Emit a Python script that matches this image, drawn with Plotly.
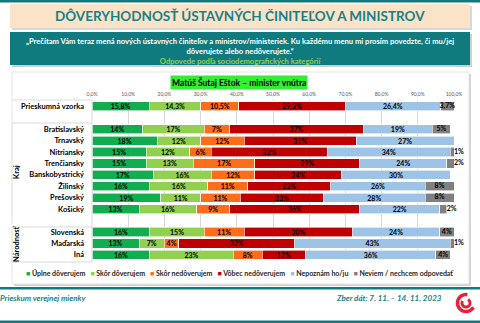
import numpy as np
import plotly.graph_objects as go

# ---------------- data ----------------
categories = ["Prieskumná vzorka", "Bratislavský", "Trnavský", "Nitriansky", "Trenčiansky",
              "Banskobystrický", "Žilinský", "Prešovský", "Košický",
              "Slovenská", "Maďarská", "Iná"]
slots = [0, 2, 3, 4, 5, 6, 7, 8, 9, 11, 12, 13]   # row slots (blank rows separate groups)

series_names = ["Úplne dôverujem", "Skôr dôverujem", "Skôr nedôverujem",
                "Vôbec nedôverujem", "Nepoznám ho/ju", "Neviem / nechcem odpovedať"]
uplne_doverujem = [15.8, 14, 18, 15, 15, 17, 16, 19, 13, 16, 13, 16]
skor_doverujem = [14.3, 17, 12, 12, 13, 16, 16, 11, 16, 15, 7, 23]
skor_nedoverujem = [10.5, 7, 12, 6, 17, 12, 11, 11, 9, 11, 4, 8]
vobec_nedoverujem = [29.3, 37, 31, 32, 29, 24, 23, 23, 36, 30, 32, 12]
nepoznam = [26.4, 19, 27, 34, 24, 30, 26, 28, 22, 24, 43, 36]
neviem = [3.7, 5, 1, 1, 2, 0, 8, 8, 2, 4, 1, 4]
series_values = [uplne_doverujem, skor_doverujem, skor_nedoverujem,
                 vobec_nedoverujem, nepoznam, neviem]
colors = ["#12ad4f", "#92d050", "#ff6d1a", "#c00000", "#9dc3e6", "#808080"]

xtick_vals = [0, 10, 20, 30, 40, 50, 60, 70, 80, 90, 100]
xtick_text = ["0,0%", "10,0%", "20,0%", "30,0%", "40,0%", "50,0%",
              "60,0%", "70,0%", "80,0%", "90,0%", "100,0%"]

FONT = "Lato, Carlito, 'Open Sans', sans-serif"
TEAL = "#12797d"

# --------------- geometry helpers ---------------
W, H = 480, 323
L, R, T, B = 92, 26, 100, 63
PW, PH = W - L - R, H - T - B


def px(x):
    return (x - L) / PW


def py(y):
    return (H - B - y) / PH


def fmt(v):
    if v == 0:
        return ""
    return f"{v:g}".replace(".", ",") + "%"


fig = go.Figure()
n_series = len(series_names)
for i, (name, vals, col) in enumerate(zip(series_names, series_values, colors)):
    last = i == n_series - 1
    fig.add_trace(go.Bar(
        name=name, y=slots, x=vals, orientation="h",
        marker=dict(color=col, line=dict(color="white", width=0.6)),
        width=0.8,
        text=None if last else [fmt(v) for v in vals], textposition="inside",
        insidetextanchor="middle",
        textfont=dict(family=FONT, size=7, color="black", weight="bold"),
        cliponaxis=False, showlegend=False,
    ))

# labels of the last (grey) segment: centred inside when wide enough, else just right of the bar end
before_last = np.sum(np.array(series_values[:-1], dtype=float), axis=0)
last_vals = np.array(series_values[-1], dtype=float)
lab_x = np.where(last_vals >= 3, before_last + last_vals / 2, before_last + last_vals)
lab_pos = ["middle center" if v >= 3 else "middle right" for v in last_vals]
fig.add_trace(go.Scatter(
    x=lab_x, y=slots, mode="text", text=[fmt(v) for v in last_vals],
    textposition=lab_pos, textfont=dict(family=FONT, size=7, color="black", weight="bold"),
    cliponaxis=False, showlegend=False, hoverinfo="skip",
))

fig.update_layout(
    width=W, height=H, barmode="stack",
    margin=dict(l=L, r=R, t=T, b=B, autoexpand=False),
    paper_bgcolor="white", plot_bgcolor="white",
    font=dict(family=FONT),
    uniformtext=dict(minsize=7, mode="show"),
    bargap=0.2,
)
fig.update_xaxes(range=[0, 100], side="top", tickvals=xtick_vals, ticktext=xtick_text,
                 tickfont=dict(size=5, color="#595959", family=FONT),
                 showgrid=True, gridcolor="#d9d9d9", gridwidth=1, zeroline=False,
                 ticks="", ticklabelstandoff=2)
fig.update_yaxes(range=[13.45, -0.55], tickvals=slots, ticktext=categories,
                 tickfont=dict(size=7.5, color="black", family=FONT, weight="bold"),
                 showgrid=False, zeroline=False, ticks="", ticklabelstandoff=7)

shapes = []
# top teal line, lower teal lines
shapes.append(dict(type="rect", xref="paper", yref="paper", x0=px(0), x1=px(480), y0=py(0), y1=py(2.5),
                   fillcolor=TEAL, line_width=0, layer="below"))
shapes.append(dict(type="rect", xref="paper", yref="paper", x0=px(0), x1=px(480), y0=py(287), y1=py(289.5),
                   fillcolor=TEAL, line_width=0, layer="below"))
shapes.append(dict(type="rect", xref="paper", yref="paper", x0=px(0), x1=px(480), y0=py(320.5), y1=py(323),
                   fillcolor=TEAL, line_width=0, layer="below"))
# beige title box with shadow
shapes.append(dict(type="rect", xref="paper", yref="paper", x0=px(12), x1=px(472), y0=py(6), y1=py(30),
                   fillcolor="#d8d8d8", line_width=0, layer="below"))
shapes.append(dict(type="rect", xref="paper", yref="paper", x0=px(10), x1=px(470), y0=py(4), y1=py(28),
                   fillcolor="#fae3c6", line_width=0, layer="below"))
# teal question box with shadow
shapes.append(dict(type="rect", xref="paper", yref="paper", x0=px(12), x1=px(472), y0=py(34), y1=py(67),
                   fillcolor="#cfcfcf", line_width=0, layer="below"))
shapes.append(dict(type="rect", xref="paper", yref="paper", x0=px(10), x1=px(470), y0=py(32), y1=py(65),
                   fillcolor="#107b7f", line_width=0, layer="below"))
# chart container with shadow
shapes.append(dict(type="rect", xref="paper", yref="paper", x0=px(14), x1=px(471), y0=py(74), y1=py(286),
                   fillcolor="#d4d4d4", line_width=0, layer="below"))
shapes.append(dict(type="rect", xref="paper", yref="paper", x0=px(12), x1=px(469), y0=py(72), y1=py(284),
                   fillcolor="white", line=dict(color="#e0e0e0", width=0.8), layer="below"))
# category table lines in the label area
for yy in [100, 123, 227, 262]:
    shapes.append(dict(type="line", xref="paper", yref="paper", x0=px(12), x1=px(92), y0=py(yy), y1=py(yy),
                       line=dict(color="#d9d9d9", width=1)))
for (y0, y1) in [(123, 216), (227, 262)]:
    shapes.append(dict(type="line", xref="paper", yref="paper", x0=px(12), x1=px(12), y0=py(y0), y1=py(y1),
                       line=dict(color="#e6e6e6", width=1)))
shapes.append(dict(type="line", xref="paper", yref="paper", x0=px(92), x1=px(92), y0=py(100), y1=py(262),
                   line=dict(color="#d9d9d9", width=1)))

# logo (red swirl)
cx, cy = 466, 303
def arc(r, a0, a1, n=40):
    a = np.radians(np.linspace(a0, a1, n))
    pts = [(px(cx + r * np.cos(t)), py(cy - r * np.sin(t))) for t in a]
    return "M " + " L ".join(f"{x:.4f},{y:.4f}" for x, y in pts)
shapes.append(dict(type="path", xref="paper", yref="paper", path=arc(8.5, 80, 330),
                   line=dict(color="#e2243b", width=3.5)))
shapes.append(dict(type="path", xref="paper", yref="paper", path=arc(4.0, 150, 420),
                   line=dict(color="#e2243b", width=3)))
fig.update_layout(shapes=shapes)

ann = []
ann.append(dict(text="<b>DÔVERYHODNOSŤ ÚSTAVNÝCH ČINITEĽOV A MINISTROV</b>", x=px(240), y=py(16),
                font=dict(size=13.5, color="#1a7f86", family=FONT)))
question = ("<b>„Prečítam Vám teraz mená nových ústavných činiteľov a ministrov/ministeriek. "
            "Ku každému menu mi prosím povedzte, či mu/jej<br>dôverujete alebo nedôverujete.“<br>"
            "<span style=\"color:#92d050\">Odpovede podľa sociodemografických kategórií</span></b>")
ann.append(dict(text=question, x=px(240), y=py(51), font=dict(size=7.6, color="white", family=FONT)))
ann.append(dict(text="<b>Matúš Šutaj Eštok – minister vnútra</b>", x=px(239), y=py(82),
                font=dict(size=8.5, color="black", family=FONT), bgcolor="#33ee33", borderpad=1))
ann.append(dict(text="<b>Kraj</b>", x=px(16), y=py(172), textangle=-90,
                font=dict(size=7.5, color="black", family=FONT)))
ann.append(dict(text="<b>Národnosť</b>", x=px(16), y=py(244), textangle=-90,
                font=dict(size=7.5, color="black", family=FONT)))
legend_txt = "   ".join(f'<span style="color:{c}">■</span> {n}' for n, c in zip(series_names, colors))
ann.append(dict(text="<b>" + legend_txt + "</b>", x=px(240), y=py(273),
                font=dict(size=7, color="#262626", family=FONT)))
ann.append(dict(text="<b><i>Prieskum verejnej mienky</i></b>", x=px(-2), y=py(298), xanchor="left",
                font=dict(size=8, color="#1a7f86", family=FONT)))
ann.append(dict(text="<b><i>Zber dát: 7. 11. – 14. 11. 2023</i></b>", x=px(444), y=py(298), xanchor="right",
                font=dict(size=8, color="#1a7f86", family=FONT)))
for a in ann:
    a.setdefault("xref", "paper")
    a.setdefault("yref", "paper")
    a.setdefault("showarrow", False)
    a.setdefault("xanchor", "center")
    a.setdefault("yanchor", "middle")
fig.update_layout(annotations=ann)

fig.write_html("out.html")
